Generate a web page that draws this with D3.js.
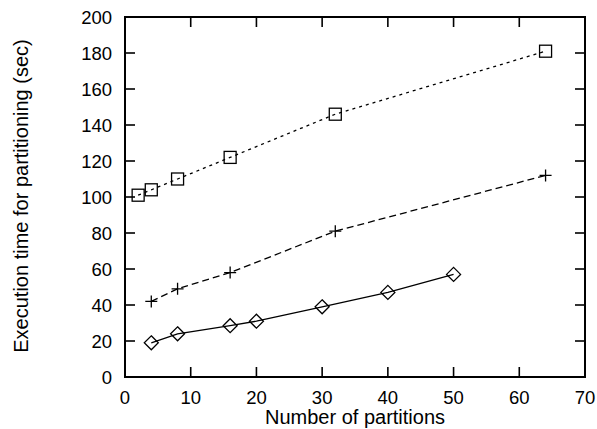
<!DOCTYPE html>
<html>
<head>
<meta charset="utf-8">
<script src="https://cdn.jsdelivr.net/npm/d3@7"></script>
<style>
body { margin: 0; background: #fff; }
svg { display: block; }
text { font-family: "Liberation Sans", Arial, Helvetica, sans-serif; fill: #000; }
</style>
</head>
<body>
<svg id="chart" width="597" height="429"></svg>
<script>
// series
var squareX = [2, 4, 8, 16, 32, 64];
var squareY = [101, 104, 110, 122, 146, 181];

var plusX = [4, 8, 16, 32, 64];
var plusY = [42, 49, 58, 81, 112];

var diamondX = [4, 8, 16, 20, 30, 40, 50];
var diamondY = [19, 24, 28.5, 31, 39, 47, 57];

var xTicks = [0, 10, 20, 30, 40, 50, 60, 70];
var yTicks = [0, 20, 40, 60, 80, 100, 120, 140, 160, 180, 200];

var xTitle = "Number of partitions";
var yTitle = "Execution time for partitioning (sec)";

var svg = d3.select("#chart");

// plot box (window.top is taken, so use other names)
var plotL = 125, plotR = 585, plotT = 17, plotB = 377;

var xScale = d3.scaleLinear().domain([0, 70]).range([plotL, plotR]);
var yScale = d3.scaleLinear().domain([0, 200]).range([plotB, plotT]);

function zip(xs, ys) {
	return xs.map(function(x, i) { return {x: x, y: ys[i]}; });
}

var ticklen = 10;

// ticks, inward on all four sides
var tickGroup = svg.append("g")
	.attr("stroke", "#000")
	.attr("stroke-width", 1.6);

xTicks.slice(1, -1).forEach(function(t) {
	tickGroup.append("line")
		.attr("x1", xScale(t)).attr("x2", xScale(t))
		.attr("y1", plotB).attr("y2", plotB - ticklen);
	tickGroup.append("line")
		.attr("x1", xScale(t)).attr("x2", xScale(t))
		.attr("y1", plotT).attr("y2", plotT + ticklen);
});
yTicks.slice(1, -1).forEach(function(t) {
	tickGroup.append("line")
		.attr("x1", plotL).attr("x2", plotL + ticklen)
		.attr("y1", yScale(t)).attr("y2", yScale(t));
	tickGroup.append("line")
		.attr("x1", plotR).attr("x2", plotR - ticklen)
		.attr("y1", yScale(t)).attr("y2", yScale(t));
});

// frame
svg.append("rect")
	.attr("x", plotL).attr("y", plotT)
	.attr("width", plotR - plotL).attr("height", plotB - plotT)
	.attr("fill", "none")
	.attr("stroke", "#000")
	.attr("stroke-width", 2);

// tick labels
svg.append("g").selectAll("text")
	.data(xTicks)
	.enter()
	.append("text")
	.attr("x", function(d) { return xScale(d); })
	.attr("y", 404)
	.attr("text-anchor", "middle")
	.attr("font-size", 18.5)
	.text(function(d) { return d; });

svg.append("g").selectAll("text")
	.data(yTicks)
	.enter()
	.append("text")
	.attr("x", 112)
	.attr("y", function(d) { return yScale(d) + 6.5; })
	.attr("text-anchor", "end")
	.attr("font-size", 18.5)
	.text(function(d) { return d; });

// axis titles
svg.append("text")
	.attr("x", (plotL + plotR) / 2)
	.attr("y", 424)
	.attr("text-anchor", "middle")
	.attr("font-size", 20)
	.text(xTitle);

svg.append("text")
	.attr("transform", "translate(28," + 196 + ") rotate(-90)")
	.attr("text-anchor", "middle")
	.attr("font-size", 20)
	.text(yTitle);

var line = d3.line()
	.x(function(d) { return xScale(d.x); })
	.y(function(d) { return yScale(d.y); });

function drawSeries(data, dash) {
	svg.append("path")
		.datum(data)
		.attr("d", line)
		.attr("fill", "none")
		.attr("stroke", "#000")
		.attr("stroke-width", 1.3)
		.attr("stroke-dasharray", dash);
}

var squares = zip(squareX, squareY);
var pluses = zip(plusX, plusY);
var diamonds = zip(diamondX, diamondY);

drawSeries(squares, "3,4");
drawSeries(pluses, "7,4");
drawSeries(diamonds, null);

var ms = 6;

svg.append("g").selectAll("rect")
	.data(squares)
	.enter()
	.append("rect")
	.attr("x", function(d) { return xScale(d.x) - ms; })
	.attr("y", function(d) { return yScale(d.y) - ms; })
	.attr("width", ms * 2).attr("height", ms * 2)
	.attr("fill", "none")
	.attr("stroke", "#000")
	.attr("stroke-width", 1.3);

svg.append("g").selectAll("path")
	.data(pluses)
	.enter()
	.append("path")
	.attr("d", function(d) {
		var cx = xScale(d.x), cy = yScale(d.y);
		return "M" + (cx - ms) + "," + cy + "H" + (cx + ms) +
			"M" + cx + "," + (cy - ms) + "V" + (cy + ms);
	})
	.attr("stroke", "#000")
	.attr("stroke-width", 1.3);

svg.append("g").selectAll("path")
	.data(diamonds)
	.enter()
	.append("path")
	.attr("d", function(d) {
		var cx = xScale(d.x), cy = yScale(d.y), r = ms + 1;
		return "M" + cx + "," + (cy - r) + "L" + (cx + r) + "," + cy +
			"L" + cx + "," + (cy + r) + "L" + (cx - r) + "," + cy + "Z";
	})
	.attr("fill", "none")
	.attr("stroke", "#000")
	.attr("stroke-width", 1.3);
</script>
</body>
</html>
